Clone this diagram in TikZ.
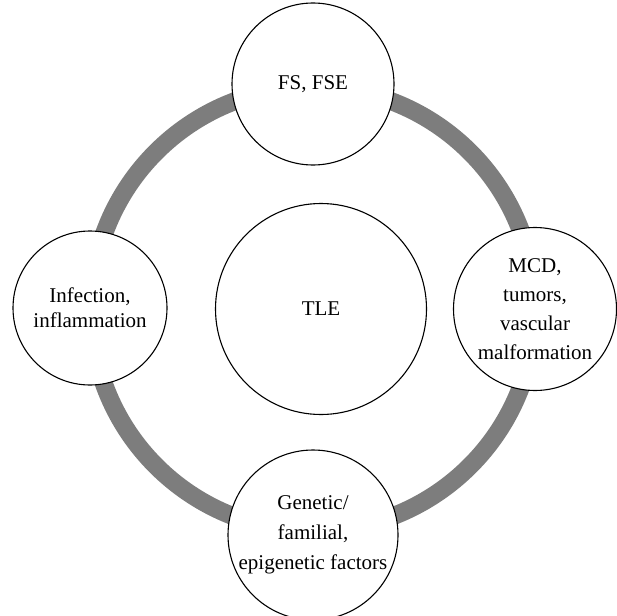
\documentclass[tikz,border=0pt]{standalone}
\usepackage{fontspec}
\setmainfont{Liberation Serif}
\begin{document}
\begin{tikzpicture}[x=1pt,y=-1pt,
  bubble/.style={circle,draw=black,line width=1.1pt,fill=white,inner sep=0pt,align=center,
    font=\fontsize{21}{25}\selectfont},
  ring/.style={draw=gray!98!black,line width=18pt}]
\useasboundingbox (0,0) rectangle (617,615);
\clip (0,0) rectangle (617,615);
\coordinate (rc) at (313,309);
\draw[ring] (rc) circle[radius=222];
\node[bubble,minimum size=162pt] (fs) at (313,84) {FS, FSE};
\node[bubble,minimum size=163pt,font=\fontsize{21}{29}\selectfont] (mcd) at (535,309) {MCD,\\tumors,\\vascular\\malformation};
\node[bubble,minimum size=154pt] (inf) at (90,308) {Infection,\\inflammation};
\node[bubble,minimum size=170pt,font=\fontsize{21}{30}\selectfont] (gen) at (313,535) {Genetic/\\familial,\\epigenetic factors};
\node[bubble,minimum size=211pt] (tle) at (321,309) {TLE};
\end{tikzpicture}
\end{document}
